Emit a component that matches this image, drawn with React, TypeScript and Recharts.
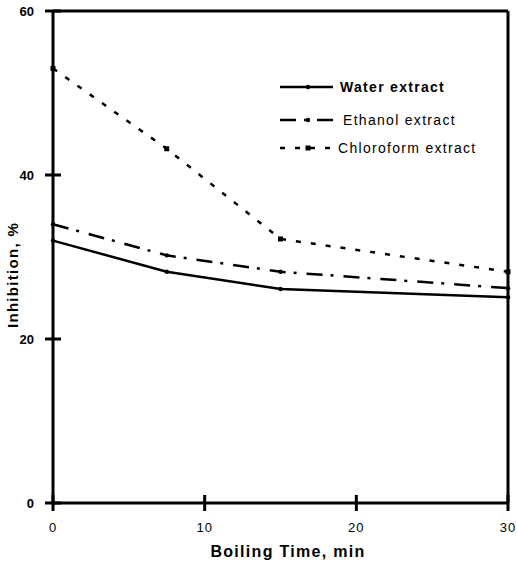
import { Line, LineChart, ReferenceLine, XAxis, YAxis } from "recharts";

// Boiling time (min) and % inhibition
const times = [0, 7.5, 15, 30];
const waterValues = [32, 28.2, 26.1, 25.1];
const ethanolValues = [34, 30.2, 28.2, 26.2];
const chloroformValues = [53, 43.2, 32.2, 28.2];

const xTicks = [0, 10, 20, 30];
const yTicks = [0, 20, 40, 60];

const FONT = "'Liberation Sans', Arial, Helvetica, sans-serif";
const INK = "#000";

type Marker = "circle" | "square";

const series: {
  key: string;
  label: string;
  dash?: string;
  marker: Marker;
  textX: number;
  bold: boolean;
}[] = [
  { key: "water", label: "Water extract", marker: "circle", textX: 62, bold: true },
  { key: "ethanol", label: "Ethanol extract", dash: "16 8 3 10", marker: "circle", textX: 65, bold: false },
  { key: "chloroform", label: "Chloroform extract", dash: "5 10", marker: "square", textX: 60, bold: false },
];

const data = times.map((t, i) => ({
  time: t,
  water: waterValues[i],
  ethanol: ethanolValues[i],
  chloroform: chloroformValues[i],
}));

function drawMarker(kind: Marker, cx: number, cy: number, key?: string | number) {
  if (kind === "square") {
    return <rect key={key} x={cx - 2.5} y={cy - 2.5} width={5} height={5} fill={INK} />;
  }
  return <circle key={key} cx={cx} cy={cy} r={2.2} fill={INK} />;
}

// ticks cross the axis line, labels sit outside
function YTick(props: any) {
  const { x, y, payload } = props;
  return (
    <g>
      <line x1={x - 8} x2={x + 8} y1={y} y2={y} stroke={INK} strokeWidth={3} />
      <text
        x={x - 19}
        y={y}
        dy={5}
        textAnchor="end"
        fontFamily={FONT}
        fontSize={13}
        fontWeight="bold"
        fill={INK}
      >
        {payload.value}
      </text>
    </g>
  );
}

function XTick(props: any) {
  const { x, y, payload } = props;
  return (
    <g>
      <line x1={x} x2={x} y1={y - 8} y2={y + 8} stroke={INK} strokeWidth={3} />
      <text
        x={x}
        y={y + 29}
        textAnchor="middle"
        fontFamily={FONT}
        fontSize={13}
        letterSpacing={1}
        fill={INK}
      >
        {payload.value}
      </text>
    </g>
  );
}

function LegendBox() {
  const rows = [17, 50, 78];
  return (
    <svg
      width={230}
      height={95}
      style={{ position: "absolute", left: 278, top: 70, pointerEvents: "none" }}
    >
      {series.map((s, i) => (
        <g key={s.key}>
          <line
            x1={2}
            x2={55}
            y1={rows[i]}
            y2={rows[i]}
            stroke={INK}
            strokeWidth={2.5}
            strokeDasharray={s.dash}
          />
          {drawMarker(s.marker, 30, rows[i])}
          <text
            x={s.textX}
            y={rows[i] + 5}
            fontFamily={FONT}
            fontSize={14}
            fontWeight={s.bold ? "bold" : "normal"}
            letterSpacing={1.3}
            fill={INK}
          >
            {s.label}
          </text>
        </g>
      ))}
    </svg>
  );
}

export default function App() {
  return (
    <div
      style={{
        position: "absolute",
        left: 0,
        top: 0,
        width: 517,
        height: 561,
        background: "#fff",
      }}
    >
      <LineChart
        width={517}
        height={561}
        data={data}
        margin={{ top: 11, right: 9, bottom: 0, left: 0 }}
      >
        <XAxis
          dataKey="time"
          type="number"
          domain={[0, 30]}
          ticks={xTicks}
          height={58}
          tickSize={0}
          tickMargin={0}
          tickLine={false}
          tick={<XTick />}
          axisLine={{ stroke: INK, strokeWidth: 3 }}
          label={{
            content: () => (
              <text
                x={288}
                y={557}
                textAnchor="middle"
                fontFamily={FONT}
                fontSize={16}
                fontWeight="bold"
                letterSpacing={1.3}
                fill={INK}
              >
                Boiling Time, min
              </text>
            ),
          }}
        />
        <YAxis
          type="number"
          domain={[0, 60]}
          ticks={yTicks}
          width={53}
          tickSize={0}
          tickMargin={0}
          tickLine={false}
          tick={<YTick />}
          axisLine={{ stroke: INK, strokeWidth: 3 }}
          label={{
            content: () => (
              <text
                x={18}
                y={275}
                transform="rotate(-90 18 275)"
                textAnchor="middle"
                fontFamily={FONT}
                fontSize={15}
                fontWeight="bold"
                letterSpacing={1.3}
                fill={INK}
              >
                Inhibition, %
              </text>
            ),
          }}
        />
        <ReferenceLine y={60} stroke={INK} strokeWidth={3} />
        <ReferenceLine x={30} stroke={INK} strokeWidth={3} />
        {series.map((s) => (
          <Line
            key={s.key}
            type="linear"
            dataKey={s.key}
            stroke={INK}
            strokeWidth={2.5}
            strokeDasharray={s.dash}
            dot={(p: any) => drawMarker(s.marker, p.cx, p.cy, p.index)}
            activeDot={false}
            isAnimationActive={false}
          />
        ))}
      </LineChart>
      <LegendBox />
    </div>
  );
}
